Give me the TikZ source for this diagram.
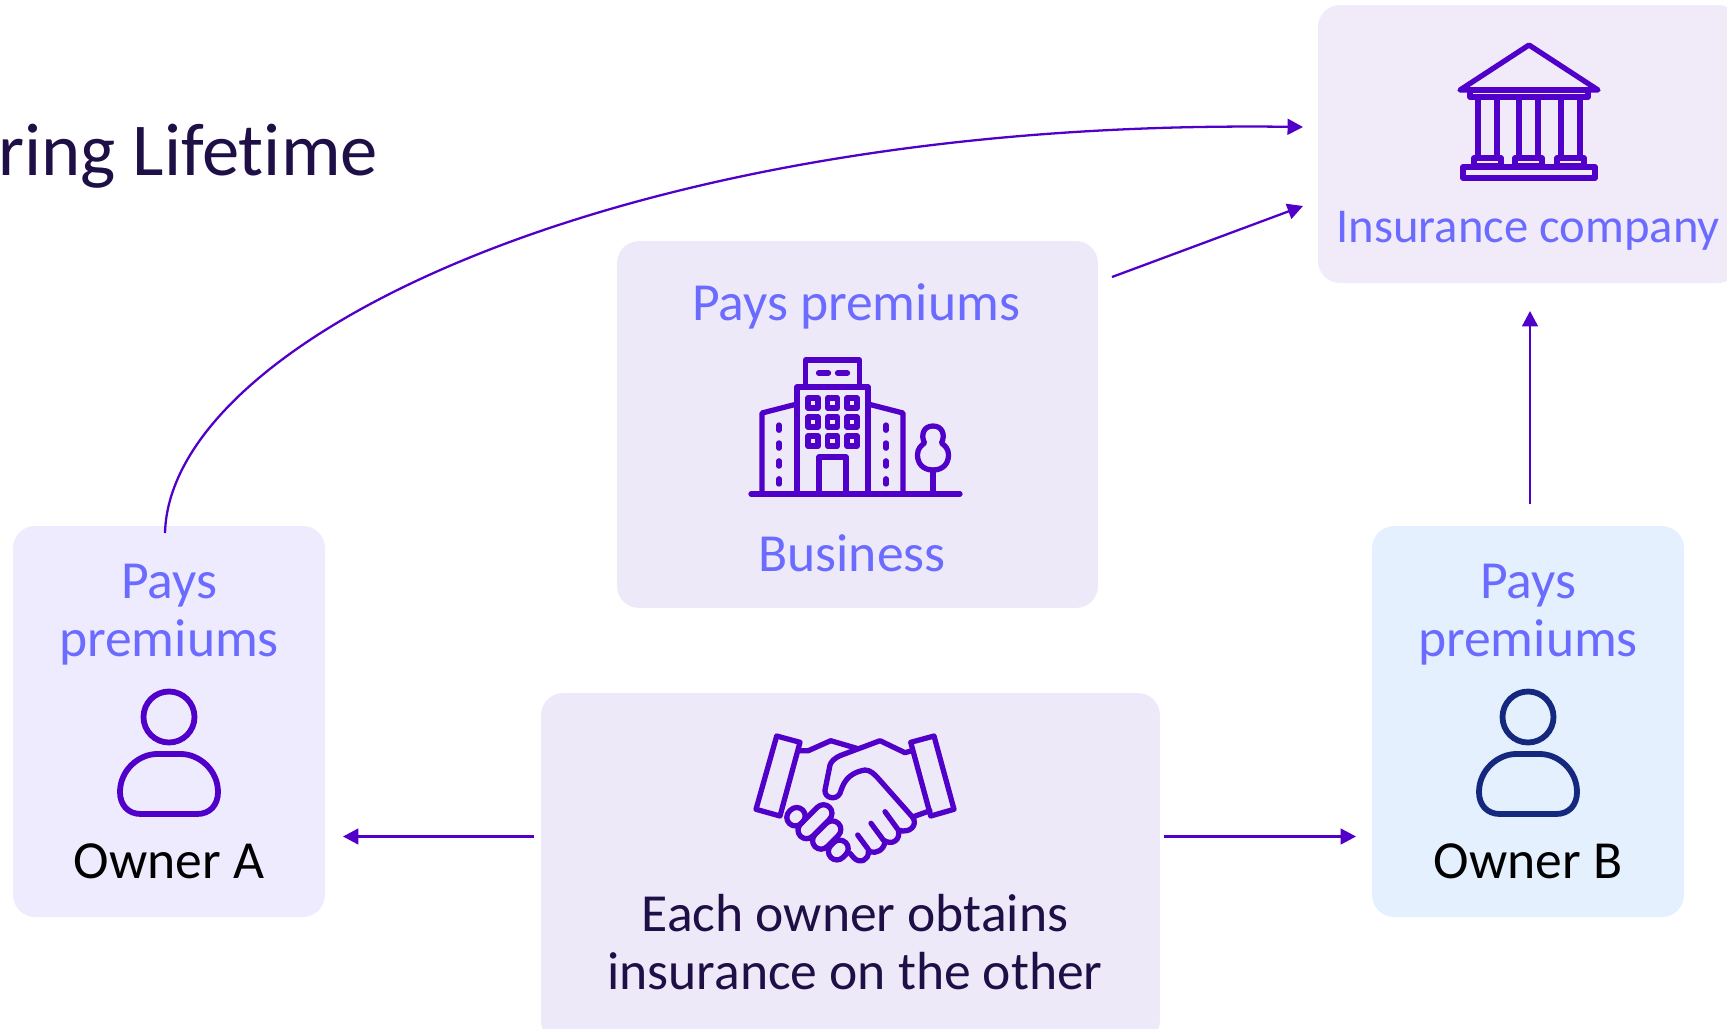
\documentclass[tikz,border=0pt]{standalone}
\usepackage{fontspec}
\setmainfont[Ligatures=NoCommon]{Carlito}
\usetikzlibrary{arrows.meta}
\definecolor{iconpurple}{HTML}{5000C8}
\definecolor{iconnavy}{HTML}{14287D}
\definecolor{paylabel}{HTML}{6B6BFF}
\definecolor{darktext}{HTML}{1E0F46}
\tikzset{
    panel/.style={rounded corners=0.44cm, inner sep=0pt, minimum width=#1},
    paytext/.style={text=paylabel, font=\fontsize{30.5}{33}\selectfont, align=center},
    flow/.style={-{Triangle[length=8.8pt, width=9pt]}, color=iconpurple, line width=1.3pt},
    icon/.style={line width=3pt, line join=round, line cap=round},
    pics/person/.style={code={
        \draw[icon, line width=3.3pt, draw=#1] (0,-43) circle (25.5);
        \draw[icon, line width=3.3pt, draw=#1] (-28,54) .. controls (-41,54) and (-49,45) .. (-49,32)
            .. controls (-49,10) and (-30,-6) .. (-12,-6) -- (12,-6)
            .. controls (30,-6) and (49,10) .. (49,32)
            .. controls (49,45) and (41,54) .. (28,54) -- cycle;
    }},
    pics/bank/.style={code={
        \draw[icon, draw=iconpurple] (-69,-41) -- (0,-86) -- (69,-41) -- cycle;
        \draw[icon, draw=iconpurple] (-59,-41) rectangle (59,-34);
        \foreach \cx in {-41.5,-0.5,41.5} {
            \draw[icon, draw=iconpurple] (\cx-9.5,-34) -- (\cx-9.5,27);
            \draw[icon, draw=iconpurple] (\cx+9.5,-34) -- (\cx+9.5,27);
            \draw[icon, draw=iconpurple] (\cx-13.5,27) rectangle (\cx+13.5,35);
        }
        \draw[icon, draw=iconpurple] (-66,36) rectangle (66,47);
    }},
    pics/tower/.style={code={
        \draw[icon, draw=iconpurple] (-81.5,63) -- (127.5,63);
        \draw[icon, draw=iconpurple] (-35.5,63) -- (-35.5,-44) -- (35.5,-44) -- (35.5,63);
        \draw[icon, draw=iconpurple] (-27,-44) -- (-27,-71) -- (27,-71) -- (27,-44);
        \draw[icon, draw=iconpurple] (-14,-58) -- (-4,-58) (5,-58) -- (15,-58);
        \draw[icon, draw=iconpurple] (-35.5,-27) -- (-70.5,-18) -- (-70.5,63);
        \draw[icon, draw=iconpurple] (35.5,-27) -- (70.5,-18) -- (70.5,63);
        \foreach \wx in {-19.5,0,19.5} \foreach \wy in {-28,-9,10}
            \draw[icon, draw=iconpurple] (\wx-5,\wy-5) rectangle (\wx+5,\wy+5);
        \draw[icon, draw=iconpurple] (-13.5,63) -- (-13.5,26) -- (13.5,26) -- (13.5,63);
        \foreach \dx in {-53.5,53.5}
            \draw[icon, draw=iconpurple, dash pattern=on 3pt off 7.2pt] (\dx,-6) -- (\dx,54);
        \draw[icon, draw=iconpurple] (100.5,63) -- (100.5,39);
        \draw[icon, draw=iconpurple] (100.5,39) .. controls (90,39) and (85,32) .. (85,24)
            .. controls (85,18) and (88,15) .. (92,12)
            .. controls (88,4) and (91,-5) .. (100.5,-5)
            .. controls (110,-5) and (113,4) .. (109,12)
            .. controls (113,15) and (116,18) .. (116,24)
            .. controls (116,32) and (111,39) .. (100.5,39) -- cycle;
    }},
    pics/shake/.style={code={
        \draw[icon, draw=iconpurple] (-73.3,-54) -- (-50,-47.7) -- (-70,26) -- (-94,19.3) -- cycle;
        \draw[icon, draw=iconpurple] (84,-54) -- (60.7,-47.7) -- (80.7,26) -- (104,19.3) -- cycle;
        \draw[icon, draw=iconpurple] (-50,-39.3) -- (-41.7,-39.3) -- (-19.3,-49.3) -- (6.7,-41.7)
            (61.7,-39.3) -- (55,-37.3) -- (30,-49.3) -- (-8.3,-35)
            .. controls (-16,-32) and (-19,-28) .. (-20,-25) -- (-25,0)
            .. controls (-26,8) and (-14,11) .. (-10,3.3)
            .. controls (-7,-6) and (-3,-17) .. (15,-20)
            .. controls (20,-20) and (24,-16) .. (26.7,-13.3) -- (62.7,27.3)
            .. controls (68,35) and (60,44) .. (48.3,40) -- (35,21.7)
            (48.3,40) .. controls (51,50) and (42,56) .. (33.3,50) -- (21,33.3)
            (35,51.7) .. controls (34,60) and (26,64) .. (20,61.7) -- (7.7,45)
            (18.3,61.7) .. controls (19,70) and (10,74) .. (4,68) -- (0,63.3)
            (63.3,26.7) -- (80,20.7);
        \foreach \fx/\fy/\fl in {-54/26.7/1,-35/31.7/12,-23.3/45/8,-11.7/60/2}
            \draw[icon, draw=iconpurple, rounded corners=0.17cm, rotate around={45:(\fx,\fy)}] (\fx-\fl-8.5,\fy-8.5) rectangle (\fx+\fl+8.5,\fy+8.5);
    }}
}
\begin{document}
\begin{tikzpicture}[x=0.02cm, y=-0.02cm]
    \useasboundingbox (0,0) rectangle (1727,1028);
    % boxes
    \fill[color={rgb,255:red,240;green,234;blue,249}, rounded corners=0.44cm] (1318,5) rectangle (1740,283);
    \node[panel=6.24cm, minimum height=7.82cm, fill={rgb,255:red,237;green,235;blue,253}] (ownerA) at (169,721.5) {};
    \node[panel=6.24cm, minimum height=7.82cm, fill={rgb,255:red,229;green,240;blue,255}] (ownerB) at (1528,721.5) {};
    \node[panel=9.62cm, minimum height=7.34cm, fill={rgb,255:red,237;green,233;blue,248}] (business) at (857.5,424.5) {};
    \node[panel=12.38cm, minimum height=7.0cm, fill={rgb,255:red,237;green,233;blue,248}] (deal) at (850.5,868) {};
    % title
    \node[anchor=base west, inner sep=0pt, text=darktext, font=\fontsize{42.5}{48}\selectfont] (title) at (-2,175) {ring Lifetime};
    % labels
    \node[paytext] (payA) at (169,615) {Pays\\premiums};
    \node[paytext] (payB) at (1528,615) {Pays\\premiums};
    \node[paytext] (payC) at (856,306) {Pays premiums};
    \node[paytext] (bizlabel) at (852,553) {Business};
    \node[paytext, font=\fontsize{27.7}{33}\selectfont] (insurelabel) at (1528,231) {Insurance company};
    \node[font=\fontsize{30.5}{33}\selectfont] (nameA) at (169,861) {Owner A};
    \node[font=\fontsize{30.5}{33}\selectfont] (nameB) at (1528,861) {Owner B};
    \node[text=darktext, font=\fontsize{30.5}{33}\selectfont, align=center] (dealtext) at (855,942) {Each owner obtains\\insurance on the other};
    % icons
    \pic at (169,760) {person=iconpurple};
    \pic at (1528,760) {person=iconnavy};
    \pic at (1529,131) {bank};
    \pic at (832.5,431) {tower};
    \pic at (850,790) {shake};
    % arrows
    \coordinate (ownerAtop) at (165,533);
    \coordinate (insureleft) at (1303,127);
    \coordinate (insureleft2) at (1303,206);
    \coordinate (insurebottom) at (1530,311);
    \coordinate (bizout) at (1112,277);
    \coordinate (ownerBout) at (1530,504);
    \coordinate (dealoutA) at (534,836.5);
    \coordinate (dealoutB) at (1164,836.5);
    \coordinate (ownerAin) at (343,836.5);
    \coordinate (ownerBin) at (1356,836.5);
    \draw[flow] (ownerAtop) .. controls (170,340) and (620,118) .. (insureleft);
    \draw[flow] (bizout) -- (insureleft2);
    \draw[flow] (ownerBout) -- (insurebottom);
    \draw[flow] (dealoutA) -- (ownerAin);
    \draw[flow] (dealoutB) -- (ownerBin);
\end{tikzpicture}
\end{document}
